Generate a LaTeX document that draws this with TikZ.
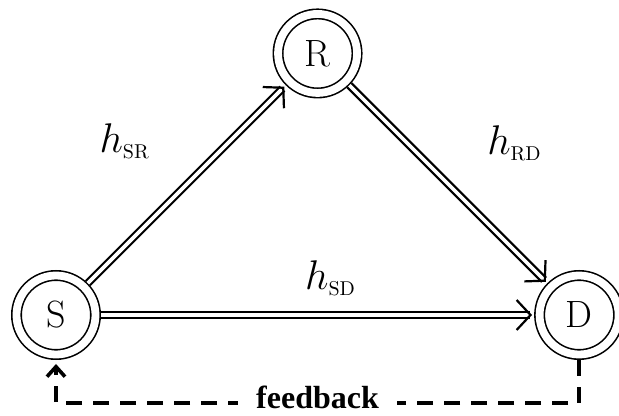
\documentclass[tikz,border=0pt]{standalone}
\usepackage{amsmath}
\usepackage{fontspec}
\newfontfamily\fbfont{Liberation Serif}
\usetikzlibrary{arrows.meta,automata}

\begin{document}
\begin{tikzpicture}[->,>={Straight Barb[length=7pt,width=15pt,line width=1.1pt]},shorten >=1pt,auto,node distance=6.5cm, semithick]
\tikzstyle{every state}=[draw=black,text=black,double,double distance=3.9pt,line width=0.8pt,minimum size=39.5pt,inner sep=0pt,outer sep=2.75pt,font=\fontsize{19}{22}\selectfont]
\tikzstyle{link}=[double,double distance=1.8pt,line width=1.1pt]
\tikzstyle{gain}=[font=\fontsize{20}{24}\selectfont,inner sep=15pt]
\tikzstyle{fback}=[-{Straight Barb[length=5pt,width=9pt]},line width=1.8pt,dash pattern=on 8pt off 5.5pt,shorten >=2pt]
\useasboundingbox (-28pt,-50.5pt) rectangle (281.5pt,157.5pt);
\node[state] (S) {S};
\node[state][above right of=S](R){R};
\node[state][below right of=R](D){D};
\path (S)edge[link] node[gain,pos=0.47]{$h_{\scriptscriptstyle\mathrm{SR}}$}(R)
         edge[link] node[gain,pos=0.53,inner sep=9pt]{$h_{\scriptscriptstyle\mathrm{SD}}$}(D)
      (R)edge[link] node[gain,pos=0.54]{$h_{\scriptscriptstyle\mathrm{RD}}$}(D);
\draw[fback] (D.south) -- ++(0,-21.5pt) -| (S.south)
  node[pos=0.25,auto=false,yshift=3pt,fill=white,inner xsep=9pt,inner ysep=4pt,font=\fbfont\bfseries\fontsize{16}{19}\selectfont]{feedback};
\end{tikzpicture}
\end{document}
